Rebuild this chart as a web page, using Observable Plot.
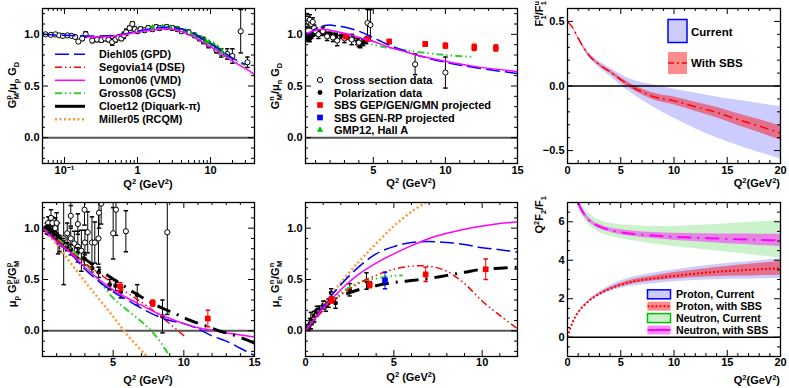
<!DOCTYPE html>
<html><head><meta charset="utf-8">
<script src="https://cdn.jsdelivr.net/npm/d3@7"></script>
<script src="https://cdn.jsdelivr.net/npm/@observablehq/plot@0.6"></script>
<style>
body{margin:0;background:#fff;overflow:hidden;}
#wrap{position:relative;width:789px;height:388px;font-family:"Liberation Sans",Arial,sans-serif;}
</style>
</head><body><div id="wrap"></div>
<script>
// ===================== DATA =====================
// Panel 1: G_M^p / mu_p G_D  (log Q2)
const p1Cross = [[0.055,1.0,0.01],[0.065,0.995,0.01],[0.075,1.0,0.01],[0.085,0.99,0.01],[0.095,0.985,0.01],[0.11,0.99,0.01],[0.125,0.985,0.012],[0.14,0.975,0.012],[0.155,0.93,0.015],[0.175,0.96,0.02],[0.195,1.0,0.025],[0.24,0.94,0.02],[0.28,0.95,0.02],[0.32,0.945,0.02],[0.36,0.96,0.02],[0.4,0.95,0.02],[0.45,0.925,0.03],[0.5,0.95,0.025],[0.55,0.97,0.02],[0.6,0.96,0.02],[0.65,0.99,0.03],[0.7,1.02,0.03],[0.78,1.06,0.02],[0.85,1.1,0.02],[0.92,1.05,0.02],[1.0,1.03,0.02],[1.1,1.05,0.02],[1.25,1.04,0.02],[1.4,1.06,0.02],[1.6,1.05,0.02],[1.8,1.07,0.02],[2.0,1.06,0.02],[2.5,1.07,0.02],[3.0,1.06,0.02],[3.5,1.05,0.02],[4.0,1.03,0.02],[5.0,1.02,0.02],[6.0,0.99,0.02],[7.0,0.96,0.02],[8.0,0.94,0.03],[9.4,0.9,0.03],[12,0.85,0.03],[14,0.82,0.04],[16.9,0.81,0.05],[19.9,0.79,0.07],[25.9,1.03,0.21],[32,0.73,0.05]];
const p1Gmp12 = [[1.6,1.065],[2.2,1.07],[2.8,1.065],[3.5,1.05],[4.5,1.03],[5.5,1.0],[6.5,0.98],[7.5,0.96],[8.5,0.94],[9.5,0.92],[11,0.9],[12.5,0.87],[14,0.84],[15.8,0.8]];
const p1Diehl = [[0.05,1.0],[0.1,0.99],[0.2,0.985],[0.5,0.99],[1,1.03],[2,1.065],[3,1.07],[5,1.03],[8,0.95],[10,0.91],[15,0.83],[20,0.77],[30,0.71]];
const p1Lomon = [[0.2,0.975],[0.5,0.985],[1,1.02],[2,1.05],[3,1.05],[5,1.0],[8,0.92],[10,0.88],[15,0.8],[20,0.74],[30,0.67],[40,0.61]];
const p1Gross = [[0.3,0.98],[0.5,0.99],[1,1.04],[2,1.07],[3,1.07],[5,1.03],[8,0.95],[10,0.91],[15,0.82],[20,0.76],[30,0.7]];

// Panel 2: G_M^n / mu_n G_D
const p2Cross = [[0.35,1.1,0.04],[0.4,1.15,0.05],[0.5,1.12,0.05],[0.6,1.14,0.05],[0.7,1.1,0.04],[0.8,1.12,0.04],[0.9,1.06,0.03],[1.0,1.03,0.03],[1.2,1.0,0.04],[1.5,1.03,0.04],[1.8,0.98,0.04],[2.2,0.97,0.04],[2.5,0.94,0.05],[3.0,0.96,0.04],[3.5,0.95,0.05],[4.0,0.92,0.04],[4.6,1.11,0.13],[4.8,1.09,0.15],[7.9,0.71,0.1],[10,0.63,0.15]];
const p2Pol = [[0.35,0.99,0.02],[0.45,0.97,0.02],[0.5,0.95,0.02],[0.6,0.96,0.03],[0.7,0.98,0.02],[0.8,1.0,0.02],[1.0,1.01,0.02],[1.3,1.02,0.02],[1.6,1.01,0.02],[2.0,1.0,0.02],[2.4,0.99,0.02],[2.8,0.98,0.02],[3.2,0.97,0.02],[3.6,0.96,0.02],[3.9,0.93,0.03],[4.1,0.9,0.03],[4.3,0.92,0.03],[4.5,0.94,0.03]];
const p2Sbs = [[3.1,0.977,0.015],[4.6,0.955,0.015],[6.1,0.93,0.02],[8.6,0.906,0.02],[10.0,0.89,0.025],[12.0,0.874,0.03],[13.5,0.868,0.03]];
const p2Diehl = [[0.3,0.99],[0.6,1.01],[1,1.05],[1.5,1.08],[2,1.09],[2.5,1.08],[3,1.07],[4,1.03],[5,0.97],[6,0.9],[7,0.85],[8,0.8],[10,0.73],[12,0.68],[15,0.62]];
const p2Lomon = [[0.3,0.99],[0.6,1.02],[1,1.04],[1.5,1.05],[2,1.04],[3,1.01],[4,0.97],[5,0.93],[6,0.88],[7,0.84],[8,0.8],[10,0.74],[12,0.69],[15,0.64]];
const p2Gross = [[0.3,0.97],[1,0.99],[2,0.99],[3,0.98],[4,0.94],[5,0.9],[6,0.87],[7,0.85],[8,0.83],[10,0.8],[12,0.78]];

// Panel 3: F1^d / F1^u
const p3Q2 =        [0, 0.5, 1, 1.5, 2, 3, 4, 5, 6, 7, 8, 10, 12, 14, 16, 18, 20];
const p3Center =    [0.5,0.45,0.37,0.3,0.24,0.165,0.11,0.05,-0.005,-0.045,-0.08,-0.115,-0.16,-0.205,-0.26,-0.31,-0.365];
const p3CurLow =    [0.5,0.445,0.36,0.285,0.22,0.14,0.075,0.005,-0.055,-0.11,-0.16,-0.25,-0.33,-0.4,-0.46,-0.515,-0.565];
const p3CurHigh =   [0.5,0.455,0.38,0.315,0.26,0.19,0.14,0.09,0.05,0.025,0.01,-0.025,-0.055,-0.085,-0.11,-0.135,-0.16];
const p3SbsLow =    [0.5,0.448,0.365,0.293,0.232,0.155,0.098,0.035,-0.023,-0.067,-0.105,-0.145,-0.195,-0.245,-0.305,-0.36,-0.42];
const p3SbsHigh =   [0.5,0.452,0.375,0.307,0.248,0.175,0.122,0.065,0.013,-0.023,-0.055,-0.085,-0.125,-0.165,-0.215,-0.26,-0.31];

// Panel 4: mu_p G_E^p / G_M^p
const p4Cross = [[0.3,1.0,0.05],[0.4,1.05,0.06],[0.5,0.98,0.05],[0.6,1.1,0.08],[0.7,1.05,0.06],[0.8,0.95,0.05],[0.9,1.0,0.1],[1.0,1.05,0.1],[1.1,0.9,0.15],[1.2,0.85,0.08],[1.5,0.9,0.45],[1.75,0.95,0.1],[2.0,1.12,0.1],[2.0,0.9,0.1],[2.25,0.85,0.12],[2.5,1.04,0.1],[2.5,0.82,0.15],[2.75,0.78,0.2],[2.97,1.18,0.15],[3.0,0.86,0.12],[3.2,0.96,0.2],[3.5,0.86,0.25],[3.7,0.86,0.2],[3.96,0.9,0.25],[4.0,1.15,0.15],[4.15,1.24,0.2],[5.0,0.95,0.25],[5.2,1.18,0.25],[5.9,0.97,0.2],[8.83,0.96,0.8]];
const p4Pol = [[0.15,0.99,0.02],[0.3,1.0,0.02],[0.35,0.97,0.03],[0.4,1.01,0.02],[0.5,0.96,0.02],[0.6,0.97,0.03],[0.7,0.95,0.02],[0.8,0.94,0.03],[1.0,0.92,0.03],[1.1,0.9,0.03],[1.2,0.88,0.03],[1.45,0.86,0.04],[1.75,0.82,0.04],[2.0,0.79,0.05],[2.47,0.76,0.05],[2.97,0.7,0.06],[3.5,0.61,0.04],[3.97,0.57,0.05],[4.75,0.45,0.05],[5.17,0.44,0.05],[5.54,0.38,0.06],[6.7,0.35,0.1],[8.49,0.14,0.16]];
const p4Sbs = [[5.5,0.43,0.04],[7.8,0.27,0.03],[11.7,0.12,0.08]];
const p4Miller = [[0,1],[1,0.84],[2,0.66],[3,0.48],[4,0.31],[5,0.14],[6,-0.04],[7.4,-0.25]];
const p4Gross = [[0,1],[1,0.9],[2,0.8],[3,0.66],[4,0.49],[5,0.32],[6,0.2],[7,0.09],[7.7,0],[8.4,-0.12],[9,-0.25]];
const p4Segovia = [[0,1],[1,0.89],[2,0.77],[3,0.66],[4,0.56],[5,0.46],[6,0.37],[7,0.28],[8,0.18],[9,0.07],[9.6,0.0],[10.2,-0.07]];
const p4Diehl = [[0,1],[1,0.87],[2,0.75],[3,0.6],[4,0.48],[5,0.38],[6,0.3],[7,0.22],[8,0.15],[9,0.1],[10,0.07],[11,0.02],[12,-0.05],[13,-0.1],[14,-0.17],[15,-0.24]];
const p4Lomon = [[0,1],[1,0.87],[2,0.76],[3,0.62],[4,0.5],[5,0.4],[6,0.32],[7,0.25],[8,0.18],[9,0.12],[10,0.07],[11,0.03],[12,0.005],[13,-0.02],[14,-0.04],[15,-0.06]];
const p4Cloet = [[2.8,0.72],[3.5,0.65],[4.5,0.55],[5.5,0.46],[6.5,0.37],[7.5,0.29],[8.5,0.22],[9.5,0.16],[10.5,0.1],[11.5,0.05],[12.5,0.0],[13.5,-0.04],[14.5,-0.09],[15,-0.12]];

// Panel 5: mu_n G_E^n / G_M^n
const p5Pol = [[0.15,0.04,0.02],[0.25,0.07,0.05],[0.3,0.1,0.08],[0.35,0.09,0.03],[0.45,0.12,0.04],[0.5,0.14,0.05],[0.6,0.17,0.03],[0.65,0.2,0.04],[0.8,0.21,0.03],[1.0,0.25,0.04],[1.15,0.24,0.05],[1.3,0.27,0.04],[1.45,0.37,0.04],[1.7,0.27,0.05],[2.5,0.4,0.06],[3.45,0.485,0.08]];
const p5Sbs = [[1.47,0.3,0.03],[3.64,0.45,0.03],[6.8,0.55,0.07],[10.2,0.6,0.1]];
const p5SbsRp = [[4.5,0.49,0.08]];
const p5Miller = [[0,0],[0.5,0.13],[1,0.25],[1.5,0.36],[2,0.47],[3,0.67],[4,0.85],[5,1.02],[6,1.16],[6.8,1.25]];
const p5Diehl = [[0,0],[1,0.24],[2,0.45],[3,0.62],[4,0.75],[5,0.82],[6,0.86],[7,0.87],[8,0.86],[9,0.84],[10,0.81],[11,0.79],[12,0.767]];
const p5Lomon = [[0,0],[1,0.22],[2,0.4],[3,0.55],[4,0.66],[5,0.75],[6,0.83],[7,0.9],[8,0.95],[9,0.99],[10,1.02],[11,1.045],[12,1.06]];
const p5Segovia = [[0,0],[1,0.2],[1.6,0.29],[2,0.35],[3,0.46],[4,0.54],[5,0.6],[6,0.63],[7,0.63],[8,0.58],[9,0.46],[10,0.29],[11,0.15],[12,0.02]];
const p5Gross = [[0,0],[1,0.22],[2,0.37],[3,0.47],[4,0.51],[5,0.535],[5.5,0.54]];
const p5Cloet = [[2.3,0.36],[3,0.4],[4,0.44],[5,0.47],[6,0.49],[7,0.51],[8,0.54],[9,0.57],[10,0.6],[11,0.61],[12,0.62]];

// Panel 6: Q2 F2/F1
const p6PQ2 =      [0, 0.25, 0.5, 0.75, 1, 1.5, 2, 3, 4, 5, 6, 8, 10, 12, 14, 16, 18, 20];
const p6PCenter =  [0, 0.45, 0.8, 1.08, 1.3, 1.62, 1.88, 2.25, 2.52, 2.72, 2.87, 3.05, 3.18, 3.3, 3.4, 3.47, 3.53, 3.58];
const p6PCurLow =  [0, 0.45, 0.8, 1.07, 1.28, 1.58, 1.82, 2.15, 2.38, 2.55, 2.65, 2.78, 2.88, 2.95, 3.0, 3.02, 3.04, 3.05];
const p6PCurHigh = [0, 0.45, 0.8, 1.09, 1.32, 1.66, 1.95, 2.37, 2.68, 2.92, 3.1, 3.33, 3.5, 3.65, 3.78, 3.88, 3.98, 4.08];
const p6PSbsLow =  [0, 0.45, 0.8, 1.08, 1.3, 1.61, 1.86, 2.21, 2.46, 2.64, 2.77, 2.92, 3.02, 3.1, 3.15, 3.18, 3.2, 3.22];
const p6PSbsHigh = [0, 0.45, 0.8, 1.08, 1.3, 1.63, 1.9, 2.29, 2.58, 2.8, 2.97, 3.18, 3.36, 3.5, 3.62, 3.74, 3.84, 3.94];
const p6NQ2 =      [1, 1.25, 1.5, 2, 2.5, 3, 4, 5, 6, 8, 10, 12, 14, 16, 18, 20];
const p6NCenter =  [7.0, 6.7, 6.45, 6.1, 5.88, 5.75, 5.57, 5.45, 5.38, 5.28, 5.22, 5.17, 5.13, 5.09, 5.06, 5.03];
const p6NCurLow =  [6.8, 6.45, 6.2, 5.82, 5.6, 5.45, 5.25, 5.12, 5.02, 4.85, 4.72, 4.6, 4.48, 4.36, 4.24, 4.1];
const p6NCurHigh = [7.2, 7.0, 6.75, 6.45, 6.22, 6.08, 5.92, 5.85, 5.8, 5.75, 5.75, 5.8, 5.86, 5.93, 6.0, 6.05];
const p6NSbsLow =  [6.85, 6.55, 6.33, 6.0, 5.78, 5.64, 5.46, 5.33, 5.25, 5.13, 5.04, 4.97, 4.9, 4.83, 4.77, 4.72];
const p6NSbsHigh = [7.15, 6.85, 6.6, 6.22, 5.98, 5.86, 5.68, 5.58, 5.52, 5.44, 5.4, 5.38, 5.37, 5.36, 5.35, 5.35];

// Tick values
const logMajor = [0.1, 1, 10];
const logMinor = [0.05,0.06,0.07,0.08,0.09,0.2,0.3,0.4,0.5,0.6,0.7,0.8,0.9,2,3,4,5,6,7,8,9,20,30];
const gMajor = [0, 0.5, 1.0];
const gMinor = [-0.2,-0.1,0.1,0.2,0.3,0.4,0.6,0.7,0.8,0.9,1.1,1.2];
const x15Major = [5, 10, 15];
const x15Minor = [1,2,3,4,6,7,8,9,11,12,13,14];
const x12Major = [0, 5, 10];
const x12Minor = [1,2,3,4,6,7,8,9,11,12];
const x20Major = [0, 5, 10, 15, 20];
const x20Minor = [1,2,3,4,6,7,8,9,11,12,13,14,16,17,18,19];
const f1Major = [-0.5, 0, 0.5];
const f1Minor = [-0.6,-0.4,-0.3,-0.2,-0.1,0.1,0.2,0.3,0.4,0.6];
const rMajor = [0, 2, 4, 6];
const rMinor = [-1,-0.5,0.5,1,1.5,2.5,3,3.5,4.5,5,5.5,6.5,7];

// Legend labels
const p1LegendLabels = ["Diehl05 (GPD)","Segovia14 (DSE)","Lomon06 (VMD)","Gross08 (GCS)","Cloet12 (Diquark-π)","Miller05 (RCQM)"];
const p1LegendKeys = ["diehl","segovia","lomon","gross","cloet","miller"];
const p2LegendLabels = ["Cross section data","Polarization data","SBS GEP/GEN/GMN projected","SBS GEN-RP projected","GMP12, Hall A"];
const p3LegendLabels = ["Current","With SBS"];
const p6LegendLabels = ["Proton, Current","Proton, with SBS","Neutron, Current","Neutron, with SBS"];

// ===================== STYLES =====================
const BLUE="#0000ff", RED="#ff0000", MAG="#ff00ff", GREEN="#33cc33", ORANGE="#ff9933", BGREEN="#00c000";
const styles = {
  diehl:{stroke:BLUE, strokeWidth:1.5, strokeDasharray:"14,5"},
  segovia:{stroke:RED, strokeWidth:1.5, strokeDasharray:"7,3,1.5,3,1.5,3"},
  lomon:{stroke:MAG, strokeWidth:1.5},
  gross:{stroke:GREEN, strokeWidth:2, strokeDasharray:"7,3,1.5,3,1.5,3"},
  cloet:{stroke:"black", strokeWidth:3, strokeDasharray:"14,7,2,7"},
  miller:{stroke:ORANGE, strokeWidth:2.5, strokeDasharray:"2,2.5"}
};
const hcap = {draw(ctx,size){const w=Math.sqrt(size/Math.PI);ctx.moveTo(-w,0);ctx.lineTo(w,0);}};
const curveL = (data, st) => Plot.line(data, {...st, strokeLinecap:"butt", curve:"catmull-rom", clip:true});
function pts(arr, {color="black", fill="black", symbol="circle", r=2.5, stroke="none"} = {}) {
  return [
    Plot.ruleX(arr,{x:d=>d[0], y1:d=>d[1]-d[2], y2:d=>d[1]+d[2], stroke:color, strokeWidth:1, clip:true}),
    Plot.dot(arr,{x:d=>d[0], y:d=>d[1]-d[2], symbol:hcap, r:2.2, stroke:color, fill:"none", clip:true}),
    Plot.dot(arr,{x:d=>d[0], y:d=>d[1]+d[2], symbol:hcap, r:2.2, stroke:color, fill:"none", clip:true}),
    Plot.dot(arr,{x:d=>d[0], y:d=>d[1], symbol, r, fill, stroke, strokeWidth:1, clip:true})
  ];
}
const band = (xs, lo, hi, fill, op) => Plot.areaY(xs.map((x,i)=>({x, lo:lo[i], hi:hi[i]})), {x:"x", y1:"lo", y2:"hi", fill, fillOpacity:op, curve:"monotone-x", clip:true});
const cline = (xs, ys, st) => Plot.line(xs.map((x,i)=>[x, ys[i]]), {...st, strokeLinecap:"butt", curve:"monotone-x", clip:true});

// ===================== PANELS =====================
const wrap = document.getElementById("wrap");
const W=263, H=194;
const f1 = d3.format(".1f");
function makePanel(col, row, cfg) {
  const x0=[0,263,526][col], y0=[0,194][row];
  const mL = col===2?41:42, mR=9, mT=8, mB=row===0?31:32;
  const pw=W-mL-mR, ph=H-mT-mB;
  const tk = [
    Plot.tickX(cfg.xMajor,{x:d=>d, insetTop:ph-6}), Plot.tickX(cfg.xMajor,{x:d=>d, insetBottom:ph-6}),
    Plot.tickX(cfg.xMinor,{x:d=>d, insetTop:ph-3}), Plot.tickX(cfg.xMinor,{x:d=>d, insetBottom:ph-3}),
    Plot.tickY(cfg.yMajor,{y:d=>d, insetRight:pw-6}), Plot.tickY(cfg.yMajor,{y:d=>d, insetLeft:pw-6}),
    Plot.tickY(cfg.yMinor,{y:d=>d, insetRight:pw-3}), Plot.tickY(cfg.yMinor,{y:d=>d, insetLeft:pw-3})
  ];
  const chart = Plot.plot({
    width:W, height:H, marginLeft:mL, marginRight:mR, marginTop:mT, marginBottom:mB,
    x:{type:cfg.xType||"linear", domain:cfg.xDomain}, y:{domain:cfg.yDomain},
    style:{fontFamily:"'Liberation Sans',Arial,sans-serif", fontSize:"11px", fontWeight:"bold", background:"transparent", color:"black", overflow:"visible"},
    marks:[...cfg.marks, ...tk, Plot.frame({stroke:"black", strokeWidth:1.3}),
      Plot.axisX(cfg.xMajor,{tickSize:0, tickPadding:row===0?3:1.5, tickFormat:cfg.xFmt, label:null}),
      Plot.axisY(cfg.yMajor,{tickSize:0, tickPadding:3, tickFormat:cfg.yFmt, label:null})]
  });
  chart.style.position="absolute"; chart.style.left=x0+"px"; chart.style.top=y0+"px";
  wrap.appendChild(chart);
}
const zeroGray = Plot.ruleY([0],{stroke:"#555", strokeWidth:2});
const zeroBlack = Plot.ruleY([0],{stroke:"black", strokeWidth:1.5});

// Panel 1
makePanel(0,0,{xType:"log", xDomain:[0.05,40], yDomain:[-0.25,1.25], xMajor:logMajor, xMinor:logMinor, yMajor:gMajor, yMinor:gMinor,
  xFmt:d=>d===0.1?"10⁻¹":String(d), yFmt:f1,
  marks:[zeroGray, curveL(p1Gross,styles.gross), ...pts(p1Cross,{fill:"white", stroke:"black", r:2.6}),
    Plot.dot(p1Gmp12,{x:d=>d[0], y:d=>d[1], symbol:"triangle", r:2.4, fill:BGREEN, clip:true}),
    curveL(p1Diehl,styles.diehl), curveL(p1Lomon,styles.lomon)]});
// Panel 2
makePanel(1,0,{xDomain:[0.3,15], yDomain:[-0.25,1.25], xMajor:x15Major, xMinor:x15Minor, yMajor:gMajor, yMinor:gMinor,
  xFmt:d=>String(d), yFmt:f1,
  marks:[zeroGray, curveL(p2Gross,styles.gross), ...pts(p2Pol,{r:2.4}), ...pts(p2Cross,{fill:"white", stroke:"black", r:2.6}),
    ...pts(p2Sbs,{color:RED, fill:RED, symbol:"square", r:3.2}),
    curveL(p2Diehl,styles.diehl), curveL(p2Lomon,styles.lomon)]});
// Panel 3
makePanel(2,0,{xDomain:[0,20], yDomain:[-0.6,0.6], xMajor:x20Major, xMinor:x20Minor, yMajor:f1Major, yMinor:f1Minor,
  xFmt:d=>String(d), yFmt:f1,
  marks:[band(p3Q2,p3CurLow,p3CurHigh,BLUE,0.2), band(p3Q2,p3SbsLow,p3SbsHigh,RED,0.45), zeroBlack,
    cline(p3Q2,p3Center,{stroke:RED, strokeWidth:1.5, strokeDasharray:"9,4,2,4"})]});
// Panel 4
makePanel(0,1,{xDomain:[0,15], yDomain:[-0.25,1.25], xMajor:x15Major, xMinor:x15Minor, yMajor:gMajor, yMinor:gMinor,
  xFmt:d=>String(d), yFmt:f1,
  marks:[zeroGray, ...pts(p4Cross,{fill:"white", stroke:"black", r:2.6}), ...pts(p4Pol,{r:2.4}),
    curveL(p4Miller,styles.miller), curveL(p4Gross,styles.gross), curveL(p4Segovia,styles.segovia),
    curveL(p4Diehl,styles.diehl), curveL(p4Lomon,styles.lomon), curveL(p4Cloet,styles.cloet),
    ...pts(p4Sbs,{color:RED, fill:RED, symbol:"square", r:3.2})]});
// Panel 5
makePanel(1,1,{xDomain:[0,12], yDomain:[-0.25,1.25], xMajor:x12Major, xMinor:x12Minor, yMajor:gMajor, yMinor:gMinor,
  xFmt:d=>String(d), yFmt:f1,
  marks:[zeroGray, ...pts(p5Pol,{r:2.4}),
    curveL(p5Miller,styles.miller), curveL(p5Gross,styles.gross), curveL(p5Segovia,styles.segovia),
    curveL(p5Diehl,styles.diehl), curveL(p5Lomon,styles.lomon), curveL(p5Cloet,styles.cloet),
    ...pts(p5Sbs,{color:RED, fill:RED, symbol:"square", r:3.2}),
    ...pts(p5SbsRp,{color:BLUE, fill:BLUE, symbol:"square", r:3.2})]});
// Panel 6
makePanel(2,1,{xDomain:[0,20], yDomain:[-1,7], xMajor:x20Major, xMinor:x20Minor, yMajor:rMajor, yMinor:rMinor,
  xFmt:d=>String(d), yFmt:d=>String(d),
  marks:[band(p6PQ2,p6PCurLow,p6PCurHigh,BLUE,0.2), band(p6PQ2,p6PSbsLow,p6PSbsHigh,RED,0.45),
    band(p6NQ2,p6NCurLow,p6NCurHigh,BGREEN,0.2), band(p6NQ2,p6NSbsLow,p6NSbsHigh,MAG,0.45), zeroBlack,
    cline(p6PQ2,p6PCenter,{stroke:RED, strokeWidth:2, strokeDasharray:"2,2"}),
    cline(p6NQ2,p6NCenter,{stroke:MAG, strokeWidth:2, strokeDasharray:"14,6,2,6"})]});

// ===================== OVERLAY: titles & legends =====================
const ov = d3.select(wrap).append("svg").attr("width",789).attr("height",388)
  .style("position","absolute").style("left","0px").style("top","0px")
  .attr("font-family","'Liberation Sans',Arial,sans-serif").attr("font-weight","bold");
function rich(x, y, parts, {size=11, rotate=false, anchor="middle"} = {}) {
  const t = ov.append("text").attr("transform",`translate(${x},${y})`+(rotate?" rotate(-90)":""))
    .attr("text-anchor",anchor).attr("font-size",size).attr("fill","black");
  let cur=0, prevSup=0;
  for (const [s,k] of parts) {
    const target = k==="^" ? -0.38*size : (k==="_"||k==="_b") ? 0.28*size : 0;
    const ts = t.append("tspan").text(s).attr("dy", target-cur).attr("font-size", k==="n"?size:0.68*size);
    if (k==="_b") ts.attr("dx", -prevSup*0.68*size*0.56);
    cur = target;
    if (k==="^") prevSup = s.length;
  }
}
const q2Title = [["Q","n"],["2","^"],[" (GeV","n"],["2","^"],[")","n"]];
const q2TitleR = [["Q","n"],["2","^"],["(GeV","n"],["2","^"],[")","n"]];
rich(148,188,q2Title); rich(411,187,q2Title); rich(148,384,q2Title); rich(411,381,q2Title);
rich(780,187,q2TitleR,{anchor:"end"}); rich(780,384,q2TitleR,{anchor:"end"});
rich(15.5,85,[["G","n"],["p","^"],["M","_b"],["/μ","n"],["p","_"],[" G","n"],["D","_"]],{rotate:true});
rich(278.5,86,[["G","n"],["n","^"],["M","_b"],["/μ","n"],["n","_"],[" G","n"],["D","_"]],{rotate:true});
rich(543,1,[["F","n"],["d","^"],["1","_b"],["/F","n"],["u","^"],["1","_b"]],{rotate:true, anchor:"end"});
rich(15.5,284,[["μ","n"],["p","_"],[" G","n"],["p","^"],["E","_b"],["/G","n"],["p","^"],["M","_b"]],{rotate:true});
rich(278.5,284,[["μ","n"],["n","_"],[" G","n"],["n","^"],["E","_b"],["/G","n"],["n","^"],["M","_b"]],{rotate:true});
rich(543,196,[["Q","n"],["2","^"],["F","n"],["2","_"],["/F","n"],["1","_"]],{rotate:true, anchor:"end"});

// Panel 1 legend
p1LegendKeys.forEach((k,i)=>{
  const y = 54.3 + i*13;
  const st = styles[k];
  ov.append("line").attr("x1",55).attr("x2",85).attr("y1",y).attr("y2",y)
    .attr("stroke",st.stroke).attr("stroke-width",st.strokeWidth)
    .attr("stroke-dasharray", k==="cloet" ? null : (st.strokeDasharray||null));
  ov.append("text").attr("x",99).attr("y",y+4).attr("font-size",10.8).text(p1LegendLabels[i]);
});
// Panel 2 legend
const p2Sym = [
  {sym:d3.symbolCircle, fill:"white", stroke:"black", r:2.6},
  {sym:d3.symbolCircle, fill:"black", stroke:"none", r:2.4},
  {sym:d3.symbolSquare, fill:RED, stroke:"none", r:3.2},
  {sym:d3.symbolSquare, fill:BLUE, stroke:"none", r:3.2},
  {sym:d3.symbolTriangle, fill:BGREEN, stroke:"none", r:2.4}
];
p2LegendLabels.forEach((lab,i)=>{
  const y = 80 + i*12.5, s = p2Sym[i];
  ov.append("path").attr("transform",`translate(320,${y})`).attr("d", d3.symbol(s.sym, s.r*s.r*Math.PI)())
    .attr("fill",s.fill).attr("stroke",s.stroke);
  ov.append("text").attr("x",334).attr("y",y+4).attr("font-size",11).text(lab);
});
// Panel 3 legend
ov.append("rect").attr("x",668).attr("y",19.5).attr("width",19).attr("height",23).attr("fill",BLUE).attr("fill-opacity",0.2).attr("stroke",BLUE).attr("stroke-width",1.5);
ov.append("text").attr("x",691).attr("y",36).attr("font-size",11.5).text(p3LegendLabels[0]);
ov.append("rect").attr("x",668).attr("y",52).attr("width",19).attr("height",22).attr("fill",RED).attr("fill-opacity",0.45);
ov.append("line").attr("x1",668).attr("x2",687).attr("y1",63).attr("y2",63).attr("stroke",RED).attr("stroke-width",1.5).attr("stroke-dasharray","6,3,2,3");
ov.append("text").attr("x",691).attr("y",67).attr("font-size",11.5).text(p3LegendLabels[1]);
// Panel 6 legend
const p6Keys = [
  {fill:BLUE, op:0.2, stroke:BLUE},
  {fill:RED, op:0.45, line:RED, dash:"2,2"},
  {fill:BGREEN, op:0.2, stroke:BGREEN},
  {fill:MAG, op:0.45, line:MAG, dash:null}
];
p6LegendLabels.forEach((lab,i)=>{
  const y = 294.3 + i*11.9, k = p6Keys[i];
  ov.append("rect").attr("x",647.5).attr("y",y-4.5).attr("width",23).attr("height",9)
    .attr("fill",k.fill).attr("fill-opacity",k.op).attr("stroke",k.stroke||"none").attr("stroke-width",1.5);
  if (k.line) ov.append("line").attr("x1",647.5).attr("x2",670.5).attr("y1",y).attr("y2",y).attr("stroke",k.line).attr("stroke-width",2).attr("stroke-dasharray",k.dash);
  ov.append("text").attr("x",676).attr("y",y+4).attr("font-size",10.6).text(lab);
});
</script>
</body></html>
